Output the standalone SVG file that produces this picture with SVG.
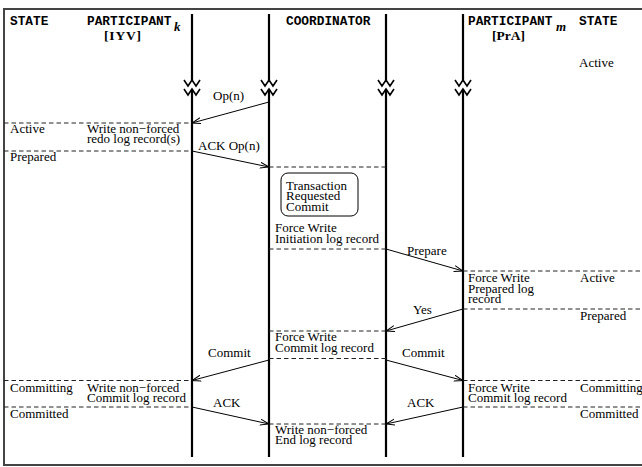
<svg xmlns="http://www.w3.org/2000/svg" width="642" height="467" viewBox="0 0 642 467">
<style>
.hd{font-family:"Liberation Mono",monospace;font-weight:bold;font-size:12.8px;fill:#000}
.hs{font-family:"Liberation Serif",serif;font-weight:bold;font-size:13.5px;fill:#000}
.sub{font-family:"Liberation Serif",serif;font-weight:bold;font-style:italic;font-size:13px;fill:#000}
.t{font-family:"Liberation Serif",serif;font-size:13px;fill:#000}
.life{stroke:#000;stroke-width:2.2;fill:none}
.brk{stroke:#000;stroke-width:1.6;fill:none}
.dash{stroke:#222;stroke-width:1;stroke-dasharray:4.5,3;fill:none}
.msg{stroke:#000;stroke-width:1;fill:none;marker-end:url(#ah)}
</style>
<defs>
<marker id="ah" markerUnits="userSpaceOnUse" markerWidth="10" markerHeight="8" refX="9" refY="3.5" orient="auto">
<path d="M0,0.5 L9,3.5 L0,6.5" fill="none" stroke="#000" stroke-width="1"/>
</marker>
</defs>
<rect x="0" y="0" width="642" height="467" fill="#fff"/>
<path d="M646,9 L4,9 L4,465 L646,465" fill="none" stroke="#444" stroke-width="2"/>

<g id="header">
<text class="hd" x="10" y="25">STATE</text>
<text class="hd" x="87" y="25">PARTICIPANT</text><text class="sub" x="174" y="31">k</text>
<text class="hs" x="104" y="40" textLength="37" lengthAdjust="spacing">[IYV]</text>
<text class="hd" x="286" y="25">COORDINATOR</text>
<text class="hd" x="468" y="25">PARTICIPANT</text><text class="sub" x="556" y="31">m</text>
<text class="hs" x="492" y="40">[PrA]</text>
<text class="hd" x="579" y="25">STATE</text>
<text class="t" x="579" y="67">Active</text>
</g>

<g id="participant_k">
<path class="life" d="M192,14 V80 M192,89 V457"/>
<path class="brk" d="M184,80 L188,86 L192,80 L196,86 L200,80 M184,89 L188,95 L192,89 L196,95 L200,89"/>
<path class="dash" d="M4,123 H192 M4,151 H192 M4,380.5 H192 M4,407 H192"/>
<text class="t" x="10" y="133">Active</text>
<text class="t" x="87" y="133">Write non−forced</text>
<text class="t" x="87" y="143">redo log record(s)</text>
<text class="t" x="10" y="161">Prepared</text>
<text class="t" x="10" y="391.5">Committing</text>
<text class="t" x="87" y="391.5">Write non−forced</text>
<text class="t" x="87" y="401.5">Commit log record</text>
<text class="t" x="10" y="417.5">Committed</text>
</g>

<g id="coordinator">
<path class="life" d="M269,14 V80 M269,89 V457 M386,14 V80 M386,89 V457"/>
<path class="brk" d="M261,80 L265,86 L269,80 L273,86 L277,80 M261,89 L265,95 L269,89 L273,95 L277,89 M378,80 L382,86 L386,80 L390,86 L394,80 M378,89 L382,95 L386,89 L390,95 L394,89"/>
<path class="dash" d="M269,167 H386 M269,249 H386 M269,331 H386 M269,358.5 H386 M269,424 H386"/>
<rect x="281" y="173" width="77" height="43" rx="7" ry="7" fill="none" stroke="#000" stroke-width="1"/>
<text class="t" x="286" y="189.5">Transaction</text>
<text class="t" x="286" y="200">Requested</text>
<text class="t" x="286" y="210.5">Commit</text>
<text class="t" x="275" y="231.5">Force Write</text>
<text class="t" x="275" y="242.5">Initiation log record</text>
<text class="t" x="275" y="340.5">Force Write</text>
<text class="t" x="275" y="351.5">Commit log record</text>
<text class="t" x="275" y="433.5">Write non−forced</text>
<text class="t" x="275" y="444">End log record</text>
</g>

<g id="participant_m">
<path class="life" d="M463,14 V80 M463,89 V457"/>
<path class="brk" d="M455,80 L459,86 L463,80 L467,86 L471,80 M455,89 L459,95 L463,89 L467,95 L471,89"/>
<path class="dash" d="M463,271 H646 M463,309 H646 M463,380.5 H646 M463,407 H646"/>
<text class="t" x="468" y="281.5">Force Write</text>
<text class="t" x="468" y="292.5">Prepared log</text>
<text class="t" x="468" y="302.5">record</text>
<text class="t" x="580" y="281.5">Active</text>
<text class="t" x="580" y="320">Prepared</text>
<text class="t" x="468" y="391.5">Force Write</text>
<text class="t" x="468" y="401.5">Commit log record</text>
<text class="t" x="580" y="391.5">Committing</text>
<text class="t" x="580" y="417.5">Committed</text>
</g>

<g id="connectors">
<path class="msg" d="M269,102 L192,123"/>
<path class="msg" d="M192,151 L269,167"/>
<path class="msg" d="M386,249 L463,271"/>
<path class="msg" d="M463,309 L386,331"/>
<path class="msg" d="M269,360 L192,380.5"/>
<path class="msg" d="M386,360 L463,380.5"/>
<path class="msg" d="M192,407 L269,424"/>
<path class="msg" d="M463,407 L386,424"/>
<text class="t" x="213" y="100">Op(n)</text>
<text class="t" x="198" y="150">ACK Op(n)</text>
<text class="t" x="407" y="255">Prepare</text>
<text class="t" x="413" y="314">Yes</text>
<text class="t" x="208" y="357">Commit</text>
<text class="t" x="402" y="357">Commit</text>
<text class="t" x="213" y="407">ACK</text>
<text class="t" x="407" y="407">ACK</text>
</g>
</svg>
